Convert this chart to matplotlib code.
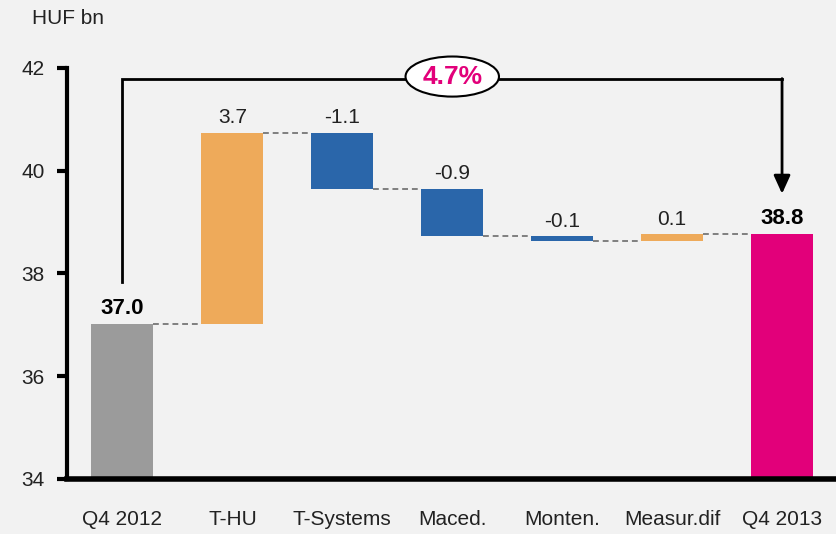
import matplotlib.pyplot as plt
from matplotlib.patches import Ellipse

plt.rcParams['font.family'] = ['Liberation Sans Narrow', 'Liberation Sans', 'DejaVu Sans']

categorias = ['Q4 2012', 'T-HU', 'T-Systems', 'Maced.', 'Monten.', 'Measur.dif', 'Q4 2013']
inicio = 37.02
deltas = [3.72, -1.09, -0.93, -0.08, 0.12]
final = 38.76
etiquetas = ['37.0', '3.7', '-1.1', '-0.9', '-0.1', '0.1', '38.8']
crecimiento = '4.7%'

gris = '#9b9b9b'
naranja = '#eeaa5a'
azul = '#2a66aa'
magenta = '#e2007a'
fondo = '#f2f2f2'

fig = plt.figure(figsize=(8.37, 5.34), dpi=100, facecolor=fondo)
ax = fig.add_axes([0.080, 0.103, 0.920, 0.770], facecolor=fondo)

ancho = 0.5636
x = list(range(len(categorias)))

# barras
ax.bar(x[0], inicio - 34, bottom=34, width=ancho, color=gris)
niveles = [inicio]
nivel = inicio
for i, d in enumerate(deltas):
    col = naranja if d > 0 else azul
    ax.bar(x[i + 1], abs(d), bottom=min(nivel, nivel + d), width=ancho, color=col)
    nivel = nivel + d
    niveles.append(nivel)
ax.bar(x[-1], final - 34, bottom=34, width=ancho, color=magenta)

# conectores punteados
for i in range(len(categorias) - 1):
    ax.plot([x[i] + ancho / 2, x[i + 1] - ancho / 2], [niveles[i], niveles[i]],
            ls=(0, (3, 2)), color='#7f7f7f', lw=1.4)

# etiquetas de valor
ax.text(x[0], inicio + 0.1, etiquetas[0], ha='center', va='bottom', fontsize=16, fontweight='bold')
nivel = inicio
for i, d in enumerate(deltas):
    tope = max(nivel, nivel + d)
    ax.text(x[i + 1], tope + 0.1, etiquetas[i + 1], ha='center', va='bottom', fontsize=15, color='#222222')
    nivel = nivel + d
ax.text(x[-1], final + 0.1, etiquetas[-1], ha='center', va='bottom', fontsize=16, fontweight='bold')

# corchete con flecha
y_top = 41.79
ax.plot([x[0], x[0], x[-1]], [37.83, y_top, y_top], color='black', lw=2, clip_on=False,
        solid_joinstyle='miter')
ax.annotate('', xy=(x[-1], 39.55), xytext=(x[-1], y_top),
            arrowprops=dict(arrowstyle='-|>,head_length=1.1,head_width=0.5', color='black', lw=2,
                            shrinkA=0, shrinkB=0))
ax.add_patch(Ellipse((3.0, 41.83), 0.85, 0.78, facecolor='white', edgecolor='black', lw=1.5,
                     clip_on=False, zorder=5))
ax.text(3.0, 41.83, crecimiento, ha='center', va='center', fontsize=19, fontweight='bold',
        color=magenta, zorder=6)

ax.set_xlim(-0.505, 6.5)
ax.set_ylim(34, 42)
ax.set_yticks([34, 36, 38, 40, 42])
ax.set_xticks(x)
ax.set_xticklabels(categorias, fontsize=15, color='#222222')
ax.tick_params(axis='x', length=0, pad=22)
ax.tick_params(axis='y', length=7, width=3, direction='out', labelsize=15, labelcolor='#222222', pad=9)
for s in ['top', 'right']:
    ax.spines[s].set_visible(False)
ax.spines['left'].set_linewidth(3)
ax.spines['bottom'].set_linewidth(4)

fig.text(0.038, 0.965, 'HUF bn', fontsize=15, color='#222222', va='center')

fig.savefig('out.png', dpi=100, facecolor=fondo)
